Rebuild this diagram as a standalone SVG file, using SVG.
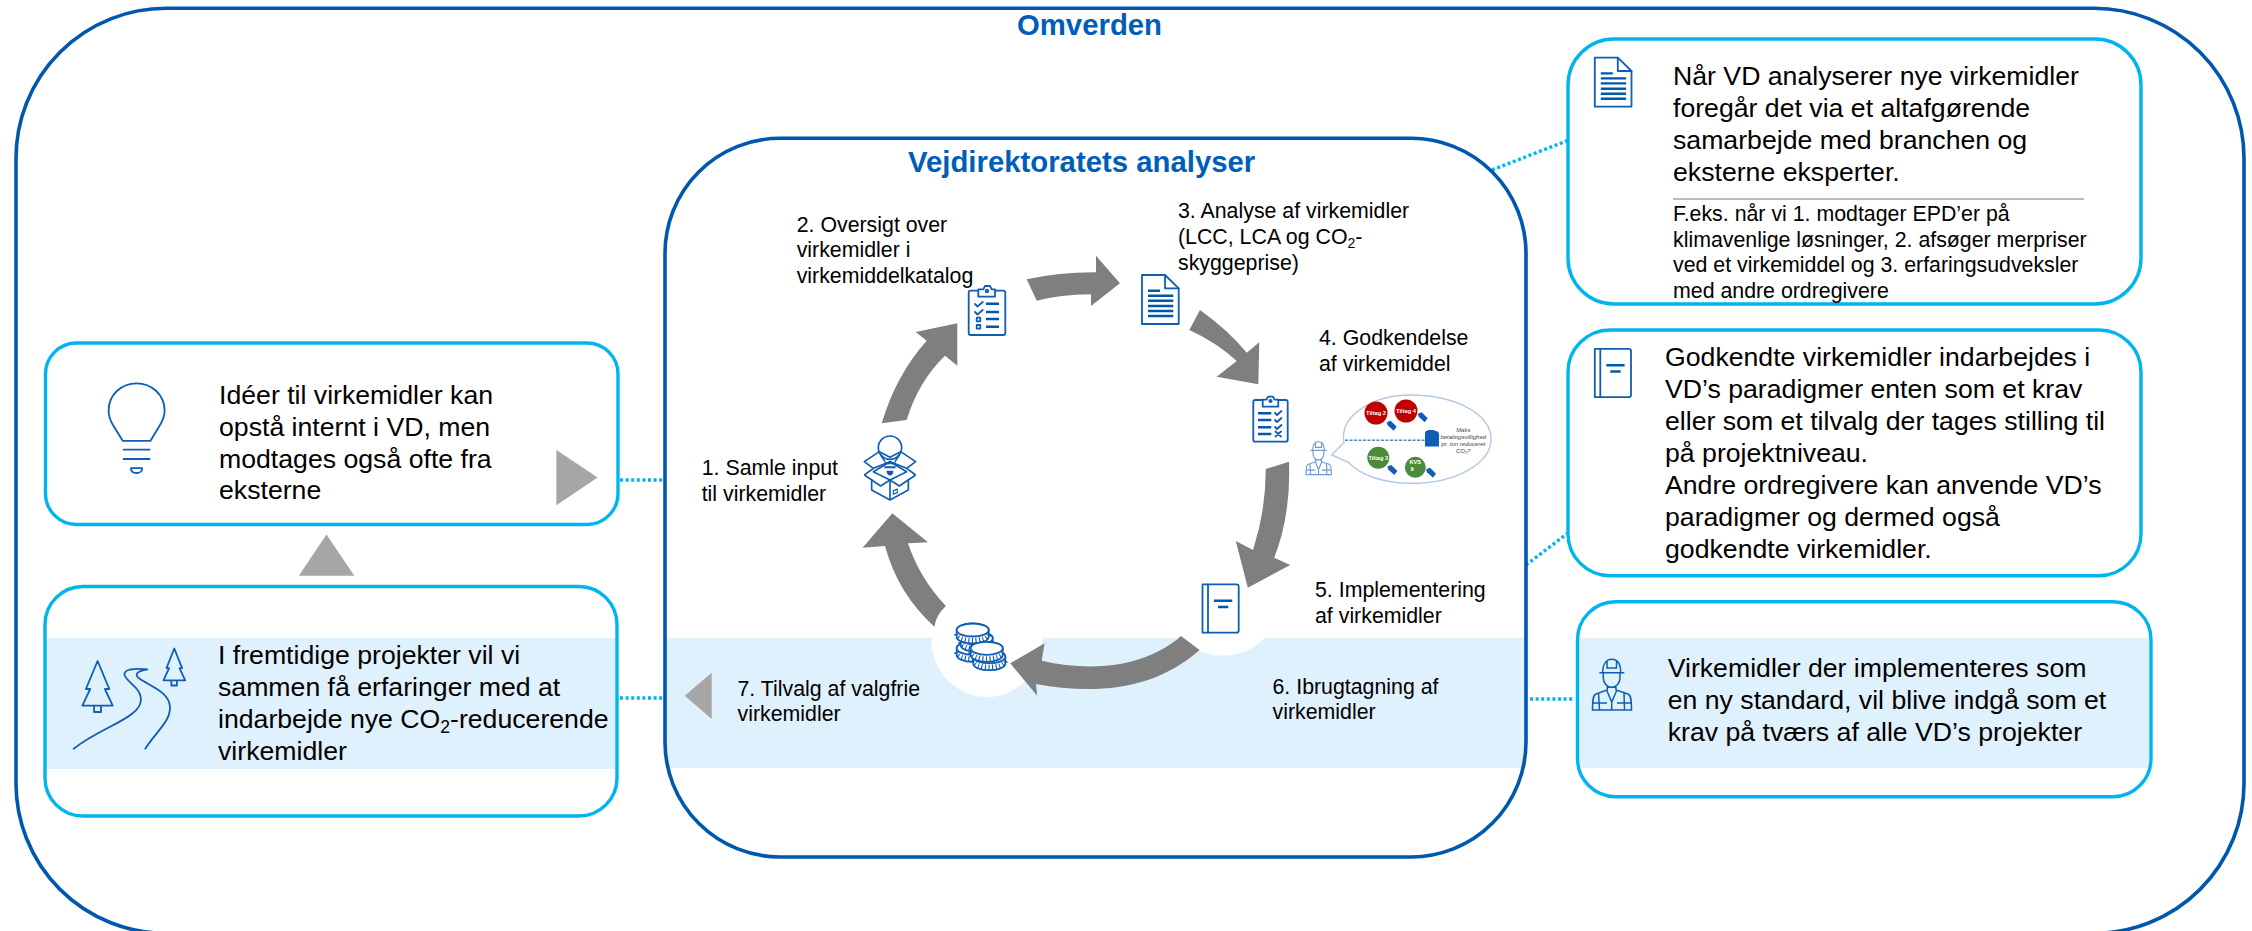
<svg xmlns="http://www.w3.org/2000/svg" width="2252" height="931" viewBox="0 0 2252 931">
<style>
text{font-family:"Liberation Sans",Arial,sans-serif;fill:#000}
.t26{font-size:26.67px}.t21{font-size:21.33px}
.title{font-size:29.33px;font-weight:bold;fill:#005EB8}
.frame{fill:none;stroke:#0057AE;stroke-width:3.6}
.box{fill:#fff;stroke:#00B5EF;stroke-width:3.4}
.band{fill:#DFF1FC}
.tri{fill:#A6A6A6}
.arrow{fill:#7F7F7F}
.dot{fill:none;stroke:#00B5EF;stroke-width:3.4;stroke-dasharray:3 2.6}
.ic{fill:none;stroke:#0F5DB4;stroke-width:1.8;stroke-linejoin:round;stroke-linecap:round}
.icw{fill:#fff;stroke:#0F5DB4;stroke-width:1.8;stroke-linejoin:round}
.lines{fill:none;stroke:#0057AE;stroke-width:2.4}
.tiny{font-size:5.7px;font-weight:bold;fill:#fff;text-anchor:middle}
.note{font-size:6px;font-style:italic;fill:#444;text-anchor:middle}
</style>
<defs>
<g id="doc">
<path class="icw" d="M1142,275H1165L1178.7,288.3V324H1142Z"/>
<path class="ic" d="M1165,275V288.3H1178.7"/>
<path class="lines" d="M1148,290.7H1160M1148,295.7H1173.3M1148,300.7H1173.3M1148,306H1173.3M1148,311H1173.3M1148,316H1173.3"/>
</g>
<g id="book">
<path class="icw" d="M1202.5,584.3H1236.5Q1238.7,584.3 1238.7,586.5V630.5Q1238.7,632.7 1236.5,632.7H1202.5Z"/>
<path class="ic" d="M1208,584.3V632.7"/>
<path class="lines" d="M1214,600.7H1232.3M1218,607H1228.3"/>
</g>
<g id="worker">
<path d="M19.3,22.7H44.3M22.7,22.7C22.7,13 27,9.3 31.7,9.3C36.5,9.3 40.7,13 40.7,22.7M27,10.5V18H36.5V10.5M23.3,22.7V28C23.3,33 27,37.3 31.7,37.3C36.3,37.3 40,33 40,28V22.7M27.3,35V40L16,44C13,45 12.5,50 12.5,60H51.5C51.5,50 51,45 48,44L36,40V35M18.5,43L19.5,60M44,43L44.5,60M27,41L31.7,52L36.5,41M31.7,52V60M13,53H27M37,53H51"/>
</g>
<g id="coin">
<path class="icw" d="M-16,0V7A16,6.5 0 0 0 16,7V0A16,6.5 0 0 0 -16,0Z"/>
<path d="M-16,4A16,6.5 0 0 0 16,4" fill="none" stroke="#0F5DB4" stroke-width="5" stroke-dasharray="1.1 2.4"/>
<ellipse class="icw" rx="16" ry="6.5"/>
</g>
<g id="tag"><path d="M-5,-3.5L-1,-5L5,1L2,5L-4,-0.5Z" fill="#0F5DB4"/></g>
</defs>

<rect width="2252" height="931" fill="#fff"/>

<g id="omverden">
<rect class="frame" x="16" y="8.3" width="2228" height="925" rx="150" ry="150"/>
<text class="title" x="1089.5" y="35" text-anchor="middle">Omverden</text>
</g>

<g id="connectors">
<path class="dot" d="M620,480H664"/>
<path class="dot" d="M620,698H664"/>
<path class="dot" d="M1492,170L1569,140"/>
<path class="dot" d="M1526,565L1568,533"/>
<path class="dot" d="M1530,699H1575"/>
</g>

<g id="analyser">
<rect x="665" y="138.3" width="861" height="718.7" rx="115" ry="115" fill="#fff"/>
<path class="band" d="M665,637.7H1526V767.7H665Z"/>
<rect class="frame" x="665" y="138.3" width="861" height="718.7" rx="115" ry="115"/>
<text class="title" x="908" y="171.7">Vejdirektoratets analyser</text>
<ellipse cx="987" cy="640" rx="55.5" ry="57" fill="#fff"/>
<ellipse cx="1222.5" cy="612" rx="52" ry="43.7" fill="#fff"/>
<path class="tri" d="M711.7,672.7V719L684.7,695.7Z"/>
</g>

<g id="cycle-arrows">
<path class="arrow" d="M881.7,423.3Q896,375 926.7,340.7L915.7,332L957.3,323.3V365.7L945,355.7Q918,382 906.7,420Z"/>
<path class="arrow" d="M1026.7,279.3Q1060,272 1096,272.3V255.7L1120,283.3L1091,306V294.3Q1060,294.5 1036.7,300.7Z"/>
<path class="arrow" d="M1200,310Q1228,330 1246.7,352.7L1259.3,342.3L1258.3,384.3L1216.7,376.7L1236.7,361Q1216,342 1189.3,330Z"/>
<path class="arrow" d="M1289,461.7Q1291,515 1274.2,557.7L1290.3,565L1247.8,587.7L1235.8,541L1253,550Q1266,510 1265.7,469Z"/>
<path class="arrow" d="M1181,636C1145,668 1090,672 1041.7,660.7L1044.6,643.3L1010.2,663.3L1037.2,695.7L1036,684C1095,695 1155,690 1199.6,650Z"/>
<path class="arrow" d="M934.4,626.7Q898,594 885,546L862.6,547.7L892.3,513.3L928,542.3L908,543.3Q920,579 945.9,606Q936,615 934.4,626.7Z"/>
</g>

<g id="step-1">
<text class="t21" x="701.7" y="475">1. Samle input</text>
<text class="t21" x="701.7" y="500.7">til virkemidler</text>
<g transform="translate(840,420) scale(.3333)" fill="none" stroke="#0F5DB4" stroke-width="5" stroke-linejoin="round">
<circle cx="150" cy="83" r="35"/>
<path d="M122,105L135,125M178,105L165,125"/>
<path d="M73,125L118,95L150,112L182,95L227,125L200,145L150,125L100,145Z"/>
<path d="M100,155L150,125L200,155L150,180Z"/>
<path d="M73,165L100,145M227,165L200,145M73,165L122,198L150,180L178,198L227,165"/>
<path d="M95,178V210L150,240L205,210V178M150,180V240"/>
<path d="M160,212L172,207V218L160,223Z" stroke-width="3.5"/>
<path d="M133,130H167M133,142H167" stroke-width="6"/>
<path d="M142,155H158Q156,164 150,164Q144,164 142,155Z" fill="#0F5DB4"/>
</g>
</g>

<g id="step-2">
<text class="t21" x="796.7" y="231.7">2. Oversigt over</text>
<text class="t21" x="796.7" y="257">virkemidler i</text>
<text class="t21" x="796.7" y="283">virkemiddelkatalog</text>
<rect class="ic" x="968.7" y="290.7" width="36.6" height="44.3" rx="2"/>
<path class="icw" d="M978.3,296.7V289.3H983.3L985,286H990L991.7,289.3H995V296.7Z"/>
<circle class="ic" cx="987" cy="291" r="1.3"/>
<path class="lines" d="M986,303.7H999M986,312H999M986,319H999M986,326.7H999"/>
<path class="ic" d="M975,304L977.5,306.5L982.7,302M975,312L977.5,314.5L982.7,310"/>
<rect class="ic" x="976.7" y="317.7" width="3.6" height="3.6"/>
<rect class="ic" x="976.7" y="325" width="3.6" height="3.6"/>
</g>

<g id="step-3">
<text class="t21" x="1178" y="217.7">3. Analyse af virkemidler</text>
<text class="t21" x="1178" y="244">(LCC, LCA og CO<tspan font-size="14" dy="4">2</tspan><tspan dy="-4">-</tspan></text>
<text class="t21" x="1178" y="270">skyggeprise)</text>
<use href="#doc"/>
</g>

<g id="step-4">
<text class="t21" x="1319" y="345">4. Godkendelse</text>
<text class="t21" x="1319" y="370.7">af virkemiddel</text>
<rect class="ic" x="1253.3" y="400" width="34.4" height="41.7" rx="2"/>
<path class="icw" d="M1262.7,406.7V399.7H1266.5L1268,396.7H1273L1274.5,399.7H1278.3V406.7Z"/>
<circle class="ic" cx="1270.5" cy="401" r="1.2"/>
<path class="lines" d="M1258,413.3H1271.3M1258,420H1271.3M1258,427.3H1271.3M1258,434H1271.3"/>
<path class="ic" d="M1275,413L1277,415L1281.5,411M1275,420L1277,422L1281.5,418M1275,427L1277,429L1281.5,425M1275.5,431.5L1281,436.5M1281,431.5L1275.5,436.5"/>
<use href="#worker" transform="translate(1297.9,435.7) scale(.65)" fill="none" stroke="#6F9BD1" stroke-width="1.8"/>
<path d="M1331.7,455L1344,442.5C1339,416 1372,395 1411,395C1455,395 1491,414 1491,439C1491,464 1455,483.3 1411,483.3C1383,483.3 1360,475 1348,462Z" fill="#fff" stroke="#B4C9E6" stroke-width="1.4"/>
<circle cx="1376" cy="413" r="11.5" fill="#C00000"/>
<circle cx="1406" cy="411" r="11.5" fill="#C00000"/>
<circle cx="1378.3" cy="457.7" r="11" fill="#4C8B3A"/>
<circle cx="1415.3" cy="467.3" r="10.5" fill="#4C8B3A"/>
<text class="tiny" x="1376" y="415">Tiltag 2</text>
<text class="tiny" x="1406" y="413">Tiltag 4</text>
<text class="tiny" x="1378.3" y="460">Tiltag 3</text>
<text class="tiny" x="1415.3" y="464">KVS</text>
<text class="tiny" x="1412" y="470.5">9</text>
<use href="#tag" transform="translate(1391.7,425.7)"/>
<use href="#tag" transform="translate(1422.7,417.3)"/>
<use href="#tag" transform="translate(1392.3,470)"/>
<use href="#tag" transform="translate(1431,472.7)"/>
<path d="M1345,440.3H1425" stroke="#4A86CF" stroke-width="1.6" stroke-dasharray="3 1.5"/>
<path d="M1425,433Q1425,430.5 1428,430.5V430H1434V430.5Q1439,431 1439,434V446.5H1425Z" fill="#0F5DB4"/>
<text class="note" x="1463.3" y="431.7">Maks</text>
<text class="note" x="1463.3" y="438.7">betalingsvillighed</text>
<text class="note" x="1463.3" y="445.7">pr. ton reduceret</text>
<text class="note" x="1463.3" y="452.7">CO<tspan font-size="4" dy="1">2</tspan><tspan dy="-1">?</tspan></text>
</g>

<g id="step-5">
<text class="t21" x="1315" y="597">5. Implementering</text>
<text class="t21" x="1315" y="622.7">af virkemidler</text>
<use href="#book"/>
</g>

<g id="step-6">
<text class="t21" x="1272.5" y="694">6. Ibrugtagning af</text>
<text class="t21" x="1272.5" y="719">virkemidler</text>
</g>

<g id="step-7">
<text class="t21" x="737.5" y="695.7">7. Tilvalg af valgfrie</text>
<text class="t21" x="737.5" y="721">virkemidler</text>
<use href="#coin" transform="translate(972.7,648.3)"/>
<use href="#coin" transform="translate(976.7,638.3)"/>
<use href="#coin" transform="translate(972.7,630)"/>
<use href="#coin" transform="translate(989.3,656.7)"/>
<use href="#coin" transform="translate(986.7,648.3)"/>
</g>

<g id="box-ideas">
<rect class="box" x="45.5" y="343" width="572.5" height="181.5" rx="31" ry="31"/>
<path class="ic" d="M122.7,440.8H150.5M122.7,440.8L113,425C110,420 108.6,416 108.6,410.7C108.6,394 122,383.3 136.6,383.3C151,383.3 164.6,394 164.6,410.7C164.6,416 163,420 160,425L150.5,440.8M123.6,449.7H149.6M123.6,459H149.6M131,468.2H142.2C142.2,471 140,473 136.6,473C133,473 131,471 131,468.2Z"/>
<text class="t26" x="219" y="403.8">Idéer til virkemidler kan</text>
<text class="t26" x="219" y="435.8">opstå internt i VD, men</text>
<text class="t26" x="219" y="467.5">modtages også ofte fra</text>
<text class="t26" x="219" y="499">eksterne</text>
<path class="tri" d="M556.4,450L597.6,477.5L556.4,505.2Z"/>
</g>

<path id="triangle-up" class="tri" d="M326.5,534.6L354.3,575.7H298.8Z"/>

<g id="box-future">
<rect x="45" y="586.5" width="572" height="229.5" rx="38" ry="38" fill="#fff"/>
<path class="band" d="M45,638H617V769H45Z"/>
<rect x="45" y="586.5" width="572" height="229.5" rx="38" ry="38" fill="none" stroke="#00B5EF" stroke-width="3.4"/>
<path class="ic" d="M97.6,661L85.9,689H90.2L82.4,705.6H112.7L104.9,689H109.3ZM94.1,705.6V712H101V705.6ZM174.3,648.5L166.5,668.2H169.1L163.5,680.3H185.2L179.5,668.2H182.1ZM171.3,680.3V685.5H176.9V680.3Z"/>
<path class="ic" d="M73.7,748.7C95,732 120,724 133,713C143,705 143,696 136,688C128,680 118,673 130,669.5Q138,668.5 147.4,669.4C138,671 133,674 140,679C150,686 170,692 170,708C170,722 155,733 145.3,748.7"/>
<text class="t26" x="218" y="664">I fremtidige projekter vil vi</text>
<text class="t26" x="218" y="696">sammen få erfaringer med at</text>
<text class="t26" x="218" y="728">indarbejde nye CO<tspan font-size="17.5" dy="5">2</tspan><tspan dy="-5">-reducerende</tspan></text>
<text class="t26" x="218" y="760">virkemidler</text>
</g>

<g id="box-analysis">
<rect class="box" x="1568" y="39" width="573" height="265" rx="46" ry="46"/>
<use href="#doc" transform="translate(452.8,-217.3)"/>
<text class="t26" x="1673" y="85">Når VD analyserer nye virkemidler</text>
<text class="t26" x="1673" y="117">foregår det via et altafgørende</text>
<text class="t26" x="1673" y="149">samarbejde med branchen og</text>
<text class="t26" x="1673" y="181">eksterne eksperter.</text>
<path d="M1673,199H2084" stroke="#A6A6A6" stroke-width="1.3"/>
<text class="t21" x="1673" y="220.7">F.eks. når vi 1. modtager EPD’er på</text>
<text class="t21" x="1673" y="246.5">klimavenlige løsninger, 2. afsøger merpriser</text>
<text class="t21" x="1673" y="272">ved et virkemiddel og 3. erfaringsudveksler</text>
<text class="t21" x="1673" y="298">med andre ordregivere</text>
</g>

<g id="box-paradigms">
<rect class="box" x="1568" y="330" width="573" height="245.7" rx="42" ry="42"/>
<use href="#book" transform="translate(392.3,-235.5)"/>
<text class="t26" x="1665" y="366">Godkendte virkemidler indarbejdes i</text>
<text class="t26" x="1665" y="398">VD’s paradigmer enten som et krav</text>
<text class="t26" x="1665" y="430">eller som et tilvalg der tages stilling til</text>
<text class="t26" x="1665" y="462">på projektniveau.</text>
<text class="t26" x="1665" y="494">Andre ordregivere kan anvende VD’s</text>
<text class="t26" x="1665" y="526">paradigmer og dermed også</text>
<text class="t26" x="1665" y="558">godkendte virkemidler.</text>
</g>

<g id="box-standard">
<rect x="1577.5" y="601.7" width="573.5" height="195" rx="38" ry="38" fill="#fff"/>
<path class="band" d="M1577.5,637.7H2151V768H1577.5Z"/>
<rect x="1577.5" y="601.7" width="573.5" height="195" rx="38" ry="38" fill="none" stroke="#00B5EF" stroke-width="3.4"/>
<use href="#worker" transform="translate(1580,650)" fill="none" stroke="#0F5DB4" stroke-width="1.5"/>
<text class="t26" x="1667.7" y="676.7">Virkemidler der implementeres som</text>
<text class="t26" x="1667.7" y="708.7">en ny standard, vil blive indgå som et</text>
<text class="t26" x="1667.7" y="740.7">krav på tværs af alle VD’s projekter</text>
</g>
</svg>
